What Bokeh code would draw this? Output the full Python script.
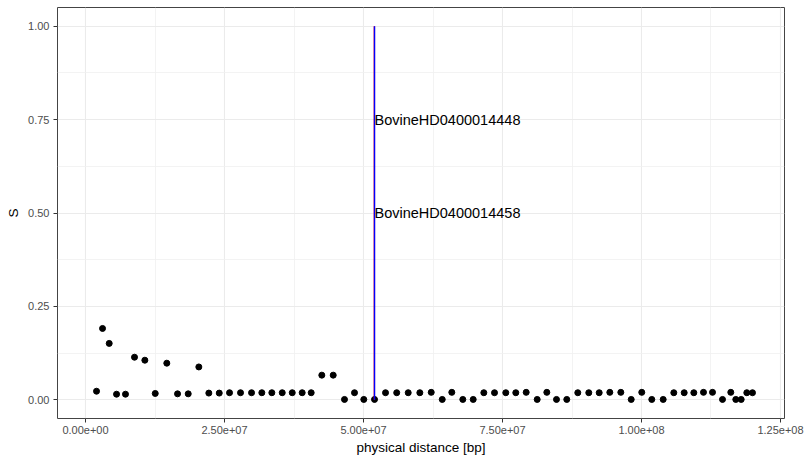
from bokeh.plotting import figure
from bokeh.models import FixedTicker, Range1d, ColumnDataSource
from bokeh.embed import file_html
from bokeh.resources import INLINE
from bokeh.core.properties import value

# ---- data ----
pos_mb = [1.98, 3.06, 4.26, 5.58, 7.19, 8.81, 10.67, 12.54, 14.62, 16.55, 18.47, 20.38, 22.18, 24.05,
          25.90, 27.88, 29.86, 31.71, 33.51, 35.38, 37.18, 38.97, 40.59,
          42.50, 44.55, 46.58, 48.38, 50.05, 51.98,
          53.96, 55.97, 58.04, 60.13, 62.18,
          64.16, 65.88, 67.86, 69.73,
          71.64, 73.56, 75.59, 77.39, 79.26,
          81.24, 82.97, 84.71, 86.56,
          88.54, 90.52, 92.39, 94.30, 96.28,
          98.15, 100.05, 101.85, 103.90,
          105.81, 107.68, 109.41, 111.15, 112.77,
          114.57, 116.06, 116.96, 117.93,
          118.94, 119.96]
s_values = [0.023, 0.191, 0.151, 0.015, 0.015, 0.114, 0.106, 0.017, 0.098, 0.016, 0.016, 0.088, 0.018, 0.018,
            0.019, 0.019, 0.019, 0.019, 0.019, 0.019, 0.019, 0.019, 0.019,
            0.066, 0.066, 0.001, 0.019, 0.001, 0.001,
            0.019, 0.019, 0.019, 0.019, 0.020,
            0.001, 0.020, 0.001, 0.001,
            0.019, 0.019, 0.019, 0.019, 0.020,
            0.001, 0.020, 0.001, 0.001,
            0.019, 0.019, 0.019, 0.020, 0.020,
            0.001, 0.020, 0.001, 0.001,
            0.019, 0.019, 0.019, 0.020, 0.020,
            0.001, 0.020, 0.001, 0.001,
            0.019, 0.019]

snp_names = ["BovineHD0400014448", "BovineHD0400014458"]
snp_pos_bp = [51.95e6, 51.98e6]
snp_colors = ["red", "blue"]
snp_label_y = [0.75, 0.50]

x_ticks = [0, 2.5e7, 5.0e7, 7.5e7, 1.0e8, 1.25e8]
x_tick_labels = ["0.00e+00", "2.50e+07", "5.00e+07", "7.50e+07", "1.00e+08", "1.25e+08"]
x_minor = [1.25e7, 3.75e7, 6.25e7, 8.75e7, 1.125e8]
y_ticks = [0.0, 0.25, 0.5, 0.75, 1.0]
y_tick_labels = ["0.00", "0.25", "0.50", "0.75", "1.00"]
y_minor = [0.125, 0.375, 0.625, 0.875]

FONT = "Liberation Sans"

p = figure(width=806, height=455, output_backend="svg", toolbar_location=None,
           x_range=Range1d(-5.04e6, 1.2572e8), y_range=Range1d(-0.05, 1.05),
           min_border_left=57, min_border_right=22, min_border_top=7, min_border_bottom=37)
p.frame_width = 727
p.frame_height = 411

p.background_fill_color = "white"
p.border_fill_color = "white"
p.outline_line_color = "#444444"
p.outline_line_width = 1

# grids
for g in (p.xgrid, p.ygrid):
    g.grid_line_color = "#EBEBEB"
    g.grid_line_width = 1.1
    g.minor_grid_line_color = "#F0F0F0"
    g.minor_grid_line_width = 0.8

p.xaxis.ticker = FixedTicker(ticks=x_ticks, minor_ticks=x_minor)
p.yaxis.ticker = FixedTicker(ticks=y_ticks, minor_ticks=y_minor)
p.xaxis.major_label_overrides = {t: l for t, l in zip(x_ticks, x_tick_labels)}
p.yaxis.major_label_overrides = {t: l for t, l in zip(y_ticks, y_tick_labels)}

for ax in (p.xaxis, p.yaxis):
    ax.axis_line_color = None
    ax.major_tick_line_color = "#333333"
    ax.major_tick_out = 4
    ax.major_tick_in = 0
    ax.minor_tick_out = 0
    ax.minor_tick_in = 0
    ax.major_label_text_font = FONT
    ax.major_label_text_font_size = "11px"
    ax.major_label_text_color = "#4D4D4D"
    ax.axis_label_text_font = FONT
    ax.axis_label_text_font_size = "13.5px"
    ax.axis_label_text_font_style = "normal"
    ax.axis_label_text_color = "black"

p.xaxis.axis_label = "physical distance [bp]"
p.yaxis.axis_label = "S"
p.xaxis.major_label_standoff = 3
p.yaxis.major_label_standoff = 4
p.xaxis.axis_label_standoff = 3
p.yaxis.axis_label_standoff = 4

src = ColumnDataSource(dict(x=[v * 1e6 for v in pos_mb], y=s_values))
p.scatter("x", "y", source=src, size=6, color="black")

seg = ColumnDataSource(dict(x0=snp_pos_bp, y0=[0, 0], x1=snp_pos_bp, y1=[1, 1], c=snp_colors))
p.segment("x0", "y0", "x1", "y1", source=seg, line_color="c", line_width=1.4)

lab = ColumnDataSource(dict(x=[snp_pos_bp[1]] * 2, y=snp_label_y, t=snp_names))
p.text("x", "y", text="t", source=lab, text_font=value(FONT), text_font_size="14.5px",
       text_align="left", text_baseline="middle", text_color="black")

open("out.html", "w").write(file_html(p, INLINE))
